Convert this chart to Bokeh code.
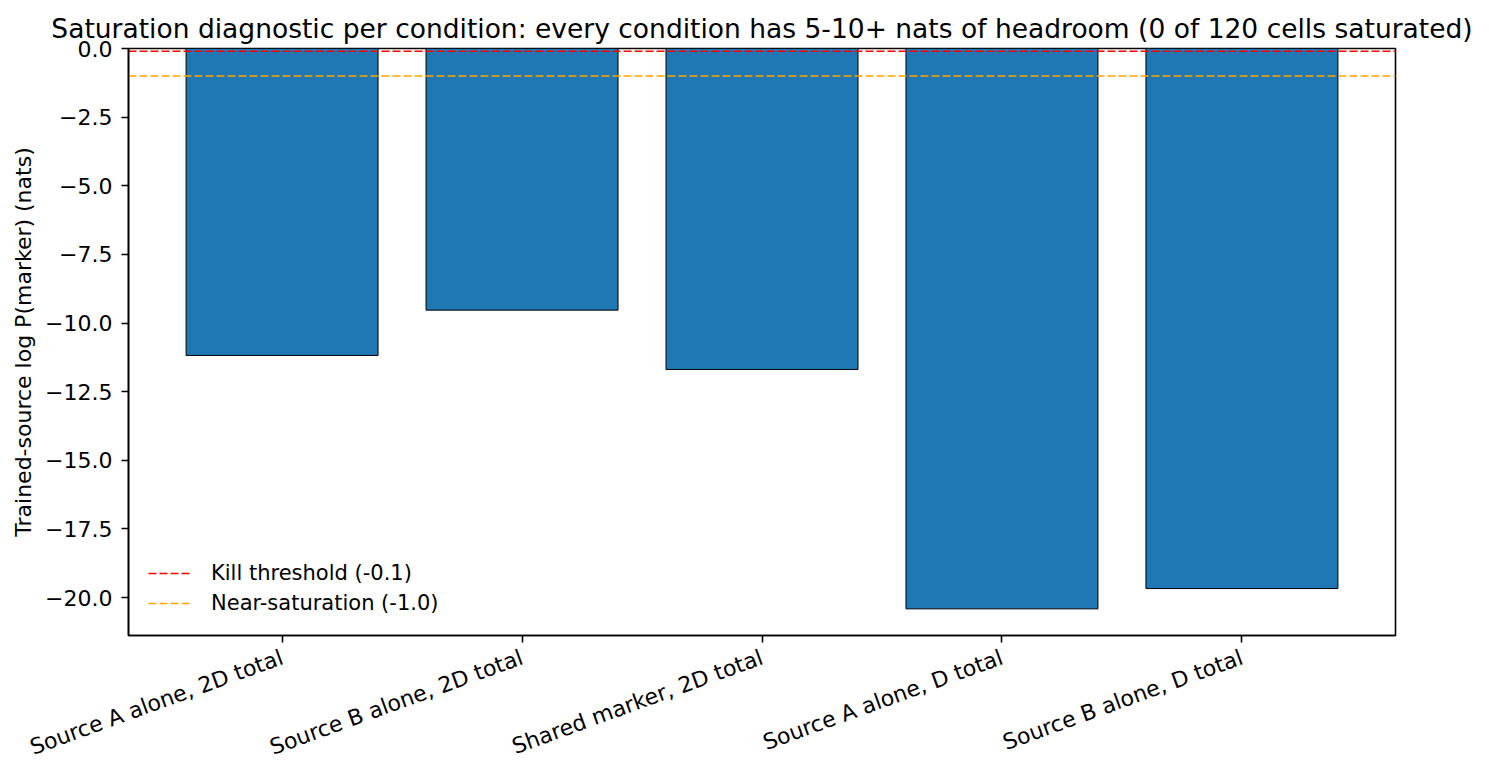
import math
from bokeh.plotting import figure
from bokeh.models import Range1d, FixedTicker, Legend, LegendItem, ColumnDataSource
from bokeh.embed import file_html
from bokeh.resources import INLINE

categories = ["Source A alone, 2D total", "Source B alone, 2D total", "Shared marker, 2D total",
              "Source A alone, D total", "Source B alone, D total"]
values = [-11.18, -9.53, -11.69, -20.41, -19.67]
kill_threshold = -0.1
near_saturation = -1.0
y_ticks = [0.0, -2.5, -5.0, -7.5, -10.0, -12.5, -15.0, -17.5, -20.0]

FONT = "DejaVu Sans"
TICK_SIZE = "22px"

p = figure(width=1491, height=779, output_backend="svg", toolbar_location=None,
           x_range=Range1d(-0.64, len(categories) - 1 + 0.64),
           y_range=Range1d(-21.38, 0.0),
           title="Saturation diagnostic per condition: every condition has 5-10+ nats of headroom (0 of 120 cells saturated)",
           min_border_left=128, min_border_right=96, min_border_top=48, min_border_bottom=144)

p.title.text_font = FONT
p.title.text_font_size = "26.5px"
p.title.text_font_style = "normal"
p.title.align = "center"
p.title.text_color = "black"

src = ColumnDataSource(dict(x=list(range(len(categories))), top=values))
p.vbar(x="x", top="top", bottom=0, width=0.8, source=src,
       fill_color="#1f77b4", line_color="black", line_width=1)

r_kill = p.line(x=[-0.64, len(categories) - 1 + 0.64], y=[kill_threshold, kill_threshold],
                line_color="red", line_dash="8 3", line_width=1.5)
r_near = p.line(x=[-0.64, len(categories) - 1 + 0.64], y=[near_saturation, near_saturation],
                line_color="orange", line_dash="8 3", line_width=1.5)

legend = Legend(items=[LegendItem(label="Kill threshold (-0.1)", renderers=[r_kill]),
                       LegendItem(label="Near-saturation (-1.0)", renderers=[r_near])],
                location="bottom_left", border_line_alpha=0, background_fill_alpha=0,
                label_text_font=FONT, label_text_font_size="21px", label_text_color="black",
                glyph_width=44, label_standoff=19, spacing=6, margin=10)
p.add_layout(legend)

p.xgrid.visible = False
p.ygrid.visible = False
p.outline_line_color = "black"
p.outline_line_width = 1.6

p.xaxis.ticker = FixedTicker(ticks=list(range(len(categories))))
p.xaxis.major_label_overrides = {i: c for i, c in enumerate(categories)}
p.xaxis.major_label_orientation = math.radians(20)
p.yaxis.ticker = FixedTicker(ticks=y_ticks)
p.yaxis.major_label_overrides = {t: (f"{t:.1f}".replace("-", "\u2212")) for t in y_ticks}
p.yaxis.axis_label = "Trained-source log P(marker) (nats)"

for ax in (p.xaxis, p.yaxis):
    ax.major_label_text_font = FONT
    ax.major_label_text_font_size = TICK_SIZE
    ax.major_label_text_color = "black"
    ax.axis_label_text_font = FONT
    ax.axis_label_text_font_size = TICK_SIZE
    ax.axis_label_text_font_style = "normal"
    ax.axis_label_text_color = "black"
    ax.axis_line_color = "black"
    ax.axis_line_width = 1.6
    ax.major_tick_line_color = "black"
    ax.major_tick_line_width = 1.6
    ax.major_tick_out = 7
    ax.major_tick_in = 0
    ax.minor_tick_line_color = None
p.yaxis.major_label_standoff = 9
p.yaxis.axis_label_standoff = 6
p.xaxis.major_label_standoff = 14

open("out.html", "w").write(file_html(p, INLINE))
